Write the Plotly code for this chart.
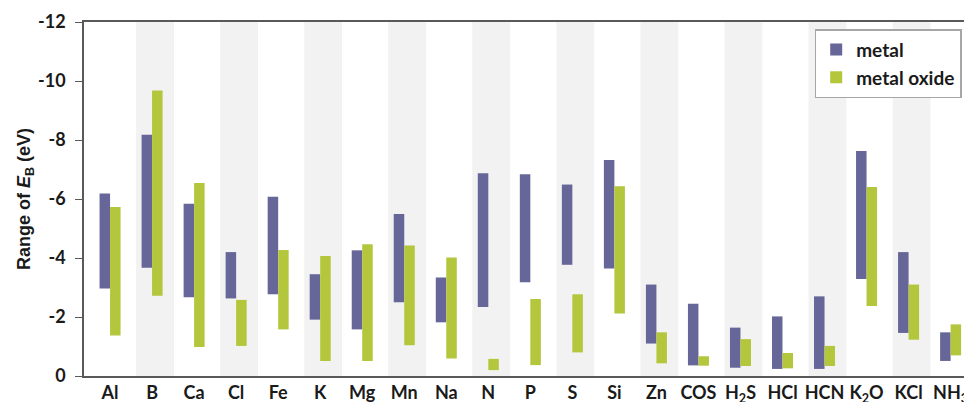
import plotly.graph_objects as go

categories = ["Al", "B", "Ca", "Cl", "Fe", "K", "Mg", "Mn", "Na", "N", "P", "S", "Si",
              "Zn", "COS", "H<sub>2</sub>S", "HCl", "HCN", "K<sub>2</sub>O", "KCl", "NH<sub>3</sub>"]

metal_top = [-6.19, -8.18, -5.84, -4.20, -6.08, -3.45, -4.26, -5.49, -3.34, -6.87, -6.84,
             -6.49, -7.32, -3.10, -2.45, -1.64, -2.02, -2.70, -7.63, -4.20, -1.48]
metal_bottom = [-2.97, -3.67, -2.67, -2.63, -2.77, -1.91, -1.58, -2.50, -1.82, -2.34, -3.18,
                -3.77, -3.64, -1.10, -0.36, -0.28, -0.24, -0.24, -3.29, -1.46, -0.51]
oxide_top = [-5.73, -9.68, -6.54, -2.58, -4.27, -4.07, -4.47, -4.42, -4.02, -0.58, -2.61,
             -2.77, -6.43, -1.48, -0.67, -1.25, -0.78, -1.02, -6.41, -3.10, -1.75]
oxide_bottom = [-1.37, -2.72, -0.98, -1.02, -1.58, -0.51, -0.51, -1.04, -0.59, -0.20, -0.37,
                -0.80, -2.12, -0.43, -0.35, -0.34, -0.26, -0.34, -2.37, -1.23, -0.70]

y_ticks = [0, -2, -4, -6, -8, -10, -12]

idx = list(range(len(categories)))
font_family = "Lato, 'Open Sans', sans-serif"
title_family = "'Liberation Sans', Arial, sans-serif"
text_color = "#1a1a1a"

fig = go.Figure()

fig.add_trace(go.Bar(
    x=idx, y=[t - b for t, b in zip(metal_top, metal_bottom)], base=metal_bottom,
    width=0.25, offset=-0.25, name="metal",
    marker=dict(color="#666699", line=dict(width=0)),
))
fig.add_trace(go.Bar(
    x=idx, y=[t - b for t, b in zip(oxide_top, oxide_bottom)], base=oxide_bottom,
    width=0.25, offset=0.0, name="metal oxide",
    marker=dict(color="#b3c63c", line=dict(width=0)),
))

shapes = []
for i in idx:
    if i % 2 == 1:
        shapes.append(dict(type="rect", xref="x", yref="paper", x0=i - 0.38, x1=i + 0.52,
                           y0=0, y1=1, fillcolor="#f2f2f2", line=dict(width=0), layer="below"))

# page body has an 8px margin: shrink the figure so the plot lands where the reference has it
fig.update_layout(
    width=964, height=394,
    margin=dict(l=76, r=5, t=14, b=26),
    paper_bgcolor="white", plot_bgcolor="white",
    barmode="overlay",
    shapes=shapes,
    showlegend=True,
    legend=dict(x=0.994, y=0.98, xanchor="right", yanchor="top",
                bordercolor="#a6a6a6", borderwidth=1.5, bgcolor="white",
                font=dict(family=font_family, size=19, color=text_color, weight="bold"),
                itemwidth=30, tracegroupgap=0),
    font=dict(family=font_family, color=text_color),
)

fig.update_xaxes(
    range=[-0.62, 20.39], tickmode="array", tickvals=idx, ticktext=categories,
    tickfont=dict(family=font_family, size=18, color=text_color, weight="bold"),
    showgrid=False, zeroline=False, showline=True, linecolor="#595959", linewidth=1.5,
    mirror=True, ticks="", automargin=False,
)
fig.update_yaxes(
    range=[0, -12], tickmode="array", tickvals=y_ticks, ticktext=[str(v) for v in y_ticks],
    tickfont=dict(family=font_family, size=18, color=text_color, weight="bold"),
    showgrid=False, zeroline=False, showline=True, linecolor="#595959", linewidth=1.5,
    mirror=True, ticks="outside", ticklen=7, tickcolor="#595959", ticklabelstandoff=6,
    automargin=False,
    title=dict(text="Range of <i>E</i><sub>B</sub> (eV)",
               font=dict(family=title_family, size=18, color=text_color, weight="bold"),
               standoff=3),
)

fig.write_html("out.html")
